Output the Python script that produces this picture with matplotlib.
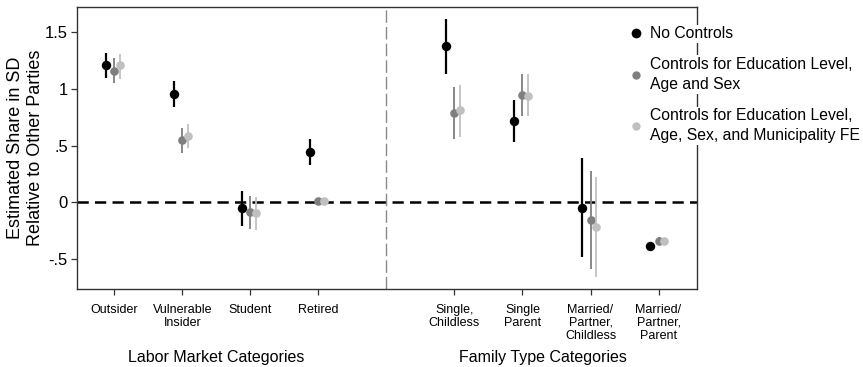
import matplotlib
matplotlib.use("Agg")
import matplotlib.pyplot as plt
from matplotlib.lines import Line2D
import matplotlib.transforms as mtransforms

plt.rcParams['font.family'] = ['Liberation Sans', 'DejaVu Sans']

# Data
categories = ['Outsider', 'Vulnerable\nInsider', 'Student', 'Retired',
              'Single,\nChildless', 'Single\nParent', 'Married/\nPartner,\nChildless',
              'Married/\nPartner,\nParent']
positions = [1, 2, 3, 4, 6, 7, 8, 9]

series_names = ['No Controls',
                'Controls for Education Level,\nAge and Sex',
                'Controls for Education Level,\nAge, Sex, and Municipality FE']

no_ctrl = [1.206, 0.95, -0.053, 0.444, 1.374, 0.72, -0.047, -0.382]
no_ctrl_lo = [1.094, 0.838, -0.209, 0.332, 1.132, 0.535, -0.479, -0.426]
no_ctrl_hi = [1.315, 1.065, 0.103, 0.556, 1.618, 0.903, 0.388, -0.347]

ctrl = [1.16, 0.55, -0.088, 0.015, 0.785, 0.947, -0.159, -0.338]
ctrl_lo = [1.05, 0.438, -0.235, -0.005, 0.556, 0.762, -0.591, -0.368]
ctrl_hi = [1.27, 0.653, 0.059, 0.035, 1.012, 1.132, 0.279, -0.308]

ctrl_fe = [1.21, 0.585, -0.091, 0.015, 0.809, 0.941, -0.221, -0.338]
ctrl_fe_lo = [1.09, 0.476, -0.244, -0.005, 0.574, 0.756, -0.662, -0.365]
ctrl_fe_hi = [1.31, 0.69, 0.05, 0.035, 1.035, 1.132, 0.221, -0.311]

yticks = [-0.5, 0, 0.5, 1, 1.5]
yticklabels = ['-.5', '0', '.5', '1', '1.5']
group_labels = ['Labor Market Categories', 'Family Type Categories']
group_centers = [2.5, 7.3]

colors = ['#000000', '#7f7f7f', '#c0c0c0']
offsets = [-0.12, 0.0, 0.08]
sizes = [6.8, 6.2, 6.2]
err_lw = [1.6, 1.3, 1.3]

fig = plt.figure(figsize=(8.63, 3.67), dpi=100)
ax = fig.add_axes([0.0892, 0.2125, 0.718, 0.768])

# Reference lines
ax.axhline(0, color='black', lw=1.8, ls=(0, (4.5, 2.5)), zorder=2)
ax.axvline(5, color='#8a8a8a', lw=1.0, ls=(0, (9, 3)), zorder=2)

all_series = [(no_ctrl, no_ctrl_lo, no_ctrl_hi),
              (ctrl, ctrl_lo, ctrl_hi),
              (ctrl_fe, ctrl_fe_lo, ctrl_fe_hi)]

for i, (est, lo, hi) in enumerate(all_series):
    xs = [p + offsets[i] for p in positions]
    ax.vlines(xs, lo, hi, color=colors[i], lw=err_lw[i], zorder=3 + i)
    ax.plot(xs, est, 'o', color=colors[i], ms=sizes[i], mec='none', zorder=3 + i)

ax.set_xlim(0.45, 9.56)
ax.set_ylim(-0.765, 1.72)
ax.set_xticks(positions)
ax.set_xticklabels(categories, fontsize=9, linespacing=1.15)
ax.set_yticks(yticks)
ax.set_yticklabels(yticklabels, fontsize=12)
ax.tick_params(axis='both', direction='out', length=4.5, width=0.9, color='#333333')
ax.tick_params(axis='x', pad=6)
ax.tick_params(axis='y', pad=2)
for s in ax.spines.values():
    s.set_color('#333333')
    s.set_linewidth(1.0)

ax.set_ylabel('Estimated Share in SD\nRelative to Other Parties', fontsize=13,
              linespacing=1.2, labelpad=1)

trans = mtransforms.blended_transform_factory(ax.transData, fig.transFigure)
for lbl, cx in zip(group_labels, group_centers):
    ax.text(cx, 0.025, lbl, transform=trans, ha='center', va='center', fontsize=11.5)

handles = [Line2D([], [], ls='none', marker='o', color=c, mec='none', ms=s)
           for c, s in zip(colors, [7, 6, 6])]
leg = ax.legend(handles, series_names, loc='upper left', bbox_to_anchor=(0.7227, 0.95),
                bbox_transform=fig.transFigure, frameon=False, fontsize=11.3,
                handlelength=0.6, handletextpad=0.55, borderpad=0, labelspacing=1.0)
for t in leg.get_texts():
    t.set_bbox(dict(facecolor='white', edgecolor='none', pad=1))
    t.set_linespacing(1.45)

fig.savefig('out.png', dpi=100)
